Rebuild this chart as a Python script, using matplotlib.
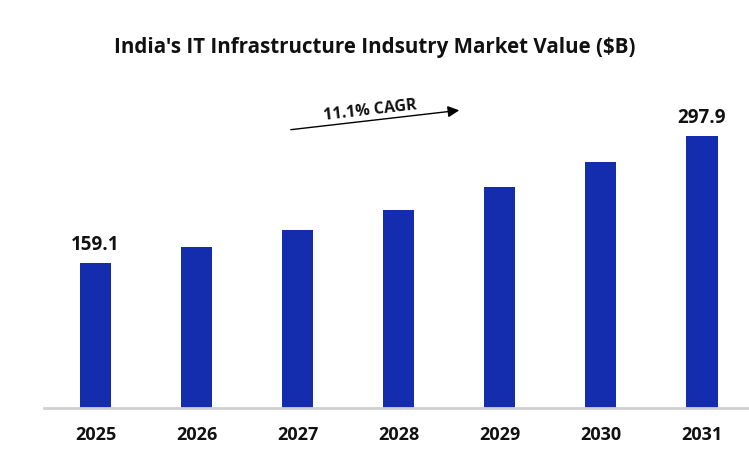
import matplotlib
matplotlib.use("Agg")
import matplotlib.pyplot as plt

years = ["2025", "2026", "2027", "2028", "2029", "2030", "2031"]
values = [159.1, 176.6, 195.3, 217.2, 242.5, 269.9, 297.9]
labelled = {0: "159.1", 6: "297.9"}
title = "India's IT Infrastructure Indsutry Market Value ($B)"
cagr_text = "11.1% CAGR"

plt.rcParams['font.family'] = ['Open Sans', 'DejaVu Sans']

W, H = 749, 450
fig = plt.figure(figsize=(W / 100, H / 100), dpi=100)
ax_left, ax_right = 44 / W, 748 / W
ax_bottom = (H - 408) / H
ymax = 340
px_per_unit = 0.913
ax_h = ymax * px_per_unit / H
ax = fig.add_axes([ax_left, ax_bottom, ax_right - ax_left, ax_h])

x = list(range(len(years)))
ax.bar(x, values, width=0.307, color="#132DAE", zorder=2)
ax.set_xlim(-0.51, 6.455)
ax.set_ylim(0, ymax)

for i, txt in labelled.items():
    ax.text(i, values[i] + 9, txt, ha="center", va="bottom",
            fontsize=13.5, fontweight="bold", color="#111111", clip_on=False)

for s in ["top", "right", "left"]:
    ax.spines[s].set_visible(False)
ax.spines["bottom"].set_color("#d0d0d0")
ax.spines["bottom"].set_linewidth(2)
ax.set_yticks([])
ax.set_xticks(x)
ax.set_xticklabels(years, fontsize=13, fontweight="bold", color="#111111")
ax.tick_params(axis="x", length=0, pad=13)

fig.text(0.5, (H - 47) / H, title, ha="center", va="center",
         fontsize=14.8, fontweight="bold", color="#111111")

# CAGR arrow (figure pixel coords)
fig.add_artist(matplotlib.patches.FancyArrowPatch(
    (288 / W, (H - 130) / H), (462 / W, (H - 110) / H),
    transform=fig.transFigure, arrowstyle="-|>", mutation_scale=17,
    color="black", linewidth=1))
fig.text(370 / W, (H - 111) / H, cagr_text, ha="center", va="center",
         rotation=6.6, fontsize=11.5, fontweight="bold", color="#111111")

fig.savefig("out.png", dpi=100)
